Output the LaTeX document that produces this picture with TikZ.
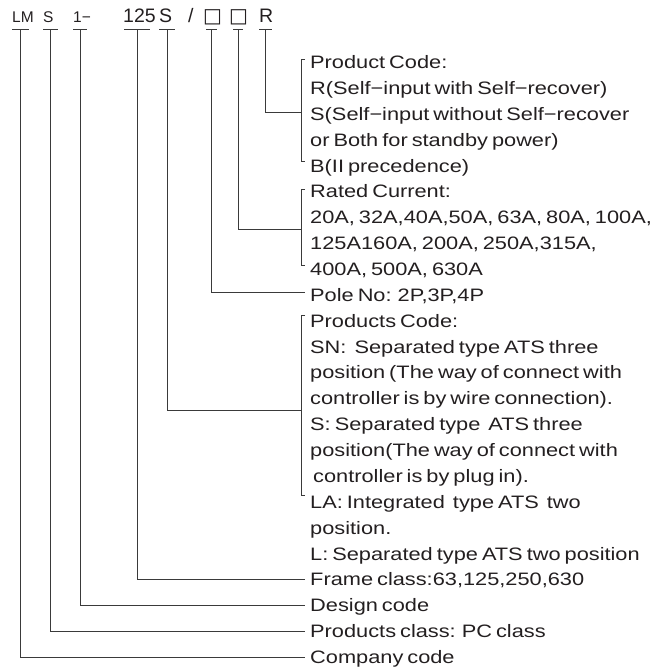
\documentclass[tikz,border=0pt]{standalone}
\usepackage{fontspec}
\setmainfont{Liberation Sans}[FakeStretch=1.21]
\newfontfamily\hdfont{Liberation Sans}
\newfontfamily\symfont{DejaVu Sans}
\definecolor{ink}{HTML}{231F20}
\definecolor{wirec}{HTML}{3A3A3A}
\newcommand\lblfont{\fontsize{18}{20}\selectfont\spaceskip=4pt plus 1pt minus 0.5pt\relax}
\begin{document}
\begin{tikzpicture}[x=1pt,y=-1pt,
  lbl/.style={anchor=base west, inner sep=0pt, text=ink, font=\lblfont},
  hds/.style={anchor=base west, inner sep=0pt, text=ink, font=\hdfont\fontsize{15.5}{17}\selectfont},
  hdl/.style={anchor=base west, inner sep=0pt, text=ink, font=\hdfont\fontsize{19.5}{22}\selectfont},
  hdq/.style={anchor=base west, inner sep=0pt, text=ink, font=\symfont\fontsize{20}{22}\selectfont},
  wire/.style={draw=wirec, line width=0.9pt},
]
\useasboundingbox (0,0) rectangle (656,670);

% header codes
\node[hds] (hLM)  at (12,22)  {LM};
\node[hds] (hS)   at (43,22)  {S};
\node[hds] (hOne) at (73,22)  {1−};
\node[hdl] (hFr)  at (123,22) {125};
\node[hdl] (hPc)  at (159,22) {S};
\node[hdl] (hSl)  at (188,22) {/};
\node[hdq] (hP)   at (203,22) {□};
\node[hdq] (hI)   at (229,22) {□};
\node[hdl] (hR)   at (259,22) {R};

% tick points under the codes
\coordinate (tLM) at (20.5,29);
\coordinate (tS)  at (50.5,29);
\coordinate (tOne) at (80,29);
\coordinate (tFr) at (137,29);
\coordinate (tPc) at (167,29);
\coordinate (tP)  at (211.5,29);
\coordinate (tI)  at (238,29);
\coordinate (tR)  at (265.5,29);
\foreach \c/\w in {tLM/8.5,tS/7.5,tOne/7,tFr/13,tPc/8,tP/5.5,tI/5,tR/6.5}
  \draw[wire] ([xshift=-\w pt]\c) -- ([xshift=\w pt]\c);

% description lines
\node[lbl] (l0)  at (310,68.5)  {Product Code:};
\node[lbl] (l1)  at (310,94.4)  {R(Self−input with Self−recover)};
\node[lbl] (l2)  at (310,120.2) {S(Self−input without Self−recover};
\node[lbl] (l3)  at (310,146.1) {or Both for standby power)};
\node[lbl] (l4)  at (310,172.0) {B(II precedence)};
\node[lbl] (l5)  at (310,197.9) {Rated Current:};
\node[lbl] (l6)  at (310,223.7) {20A, 32A,40A,50A, 63A, 80A, 100A,};
\node[lbl] (l7)  at (310,249.6) {125A160A, 200A, 250A,315A,};
\node[lbl] (l8)  at (310,275.5) {400A, 500A, 630A};
\node[lbl] (l9)  at (310,301.3) {Pole No: 2P,3P,4P};
\node[lbl] (l10) at (310,327.2) {Products Code:};
\node[lbl] (l11) at (310,353.1) {SN:~ Separated type ATS three};
\node[lbl] (l12) at (310,378.9) {position (The way of connect with};
\node[lbl] (l13) at (310,404.8) {controller is by wire connection).};
\node[lbl] (l14) at (310,430.7) {S: Separated type~ ATS three};
\node[lbl] (l15) at (310,456.6) {position(The way of connect with};
\node[lbl] (l16) at (310,482.4) {\hspace{3pt}controller is by plug in).};
\node[lbl] (l17) at (310,508.3) {LA: Integrated~ type ATS~ two};
\node[lbl] (l18) at (310,534.2) {position.};
\node[lbl] (l19) at (310,560.0) {L: Separated type ATS two position};
\node[lbl] (l20) at (310,585.9) {Frame class:63,125,250,630};
\node[lbl] (l21) at (310,611.8) {Design code};
\node[lbl] (l22) at (310,637.6) {Products class: PC class};
\node[lbl] (l23) at (310,663.5) {Company code};

% brackets
\draw[wire] (305,59) -- (301,59) -- (301,161) -- (305,161);
\draw[wire] (305,189) -- (301,189) -- (301,265) -- (305,265);
\draw[wire] (305,315) -- (301,315) -- (301,495) -- (305,495);

% connector ends
\coordinate (eR)  at (301,112);
\coordinate (eI)  at (301,229);
\coordinate (eP)  at (305,292);
\coordinate (ePc) at (301,410);
\coordinate (eFr) at (305,579);
\coordinate (eOne) at (305,605);
\coordinate (eS)  at (305,631);
\coordinate (eLM) at (305,657);

\draw[wire] (tR) |- (eR);
\draw[wire] (tI) |- (eI);
\draw[wire] (tP) |- (eP);
\draw[wire] (tPc) |- (ePc);
\draw[wire] (tFr) |- (eFr);
\draw[wire] (tOne) |- (eOne);
\draw[wire] (tS) |- (eS);
\draw[wire] (tLM) |- (eLM);
\end{tikzpicture}
\end{document}
